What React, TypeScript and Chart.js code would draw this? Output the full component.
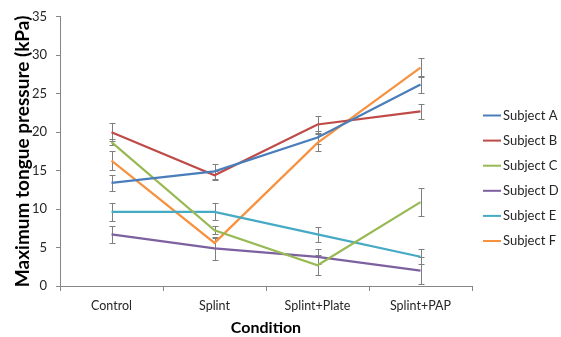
import React, { useEffect, useRef } from 'react';
import { Chart, registerables } from 'chart.js';

Chart.register(...registerables);

const categories = ['Control', 'Splint', 'Splint+Plate', 'Splint+PAP'];
const subjectLabels = ['Subject A', 'Subject B', 'Subject C', 'Subject D', 'Subject E', 'Subject F'];
const subjectColors = ['#4A7EBB', '#BE4B48', '#98B954', '#7D60A0', '#46AAC5', '#F69240'];

const subjectA = [13.4, 14.9, 19.3, 26.2];
const subjectB = [20.0, 14.4, 21.0, 22.7];
const subjectC = [18.7, 7.25, 2.7, 10.9];
const subjectD = [6.7, 4.9, 3.8, 2.0];
const subjectE = [9.65, 9.65, 6.7, 3.8];
const subjectF = [16.3, 5.6, 18.6, 28.4];

const errA = [1.0, 1.0, 0.9, 1.1];
const errB = [1.2, 0.6, 1.1, 1.0];
const errC = [0.35, 0.5, 1.3, 1.85];
const errD = [1.15, 1.5, 0.95, 1.8];
const errE = [1.15, 1.1, 1.0, 1.0];
const errF = [1.2, 0.7, 1.1, 1.25];

const yTicks = [0, 5, 10, 15, 20, 25, 30, 35];

const seriesValues = [subjectA, subjectB, subjectC, subjectD, subjectE, subjectF];
const seriesErrors = [errA, errB, errC, errD, errE, errF];

const FONT = 'Lato, "Open Sans", sans-serif';

const errorBarPlugin = {
  id: 'errorBars',
  beforeDatasetsDraw(chart: any) {
    const ctx = chart.ctx;
    const yScale = chart.scales.y;
    ctx.save();
    ctx.strokeStyle = '#7f7f7f';
    ctx.lineWidth = 1;
    chart.data.datasets.forEach((ds: any, i: number) => {
      const meta = chart.getDatasetMeta(i);
      const errs = seriesErrors[i];
      meta.data.forEach((el: any, j: number) => {
        const v = ds.data[j];
        const e = errs[j];
        const x = Math.round(el.x) + 0.5;
        const yT = Math.round(yScale.getPixelForValue(v + e)) + 0.5;
        const yB = Math.round(yScale.getPixelForValue(v - e)) + 0.5;
        ctx.beginPath();
        ctx.moveTo(x, yT);
        ctx.lineTo(x, yB);
        ctx.moveTo(x - 3, yT);
        ctx.lineTo(x + 3, yT);
        ctx.moveTo(x - 3, yB);
        ctx.lineTo(x + 3, yB);
        ctx.stroke();
      });
    });
    ctx.restore();
  },
};

const legendPlugin = {
  id: 'customLegend',
  afterDraw(chart: any) {
    const ctx = chart.ctx;
    const area = chart.chartArea;
    const x0 = area.right + 11;
    const yStart = 115.5;
    const step = 25.1;
    ctx.save();
    ctx.font = `13px ${FONT}`;
    ctx.textBaseline = 'middle';
    ctx.textAlign = 'left';
    chart.data.datasets.forEach((ds: any, i: number) => {
      const y = yStart + i * step;
      ctx.strokeStyle = ds.borderColor;
      ctx.lineWidth = 2;
      ctx.beginPath();
      ctx.moveTo(x0, y);
      ctx.lineTo(x0 + 18, y);
      ctx.stroke();
      ctx.fillStyle = '#262626';
      ctx.fillText(ds.label, x0 + 20, y);
    });
    ctx.restore();
  },
};

export default function App() {
  const ref = useRef<HTMLCanvasElement | null>(null);

  useEffect(() => {
    if (!ref.current) return;
    const chart = new Chart(ref.current, {
      type: 'line',
      data: {
        labels: categories,
        datasets: seriesValues.map((vals, i) => ({
          label: subjectLabels[i],
          data: vals,
          borderColor: subjectColors[i],
          backgroundColor: subjectColors[i],
          borderWidth: 2.25,
          pointRadius: 0,
          tension: 0,
          fill: false,
        })),
      },
      options: {
        responsive: false,
        animation: false,
        layout: { padding: { left: 0, right: 89, top: 16, bottom: 0 } },
        plugins: {
          legend: { display: false },
          tooltip: { enabled: false },
        },
        scales: {
          x: {
            type: 'category',
            offset: true,
            grid: {
              offset: true,
              drawOnChartArea: false,
              drawTicks: true,
              tickLength: 5,
              color: '#868686',
            },
            border: { color: '#868686', width: 1 },
            ticks: {
              color: '#262626',
              font: { family: FONT, size: 12.5 },
              padding: 7,
              maxRotation: 0,
            },
            title: {
              display: true,
              text: 'Condition',
              color: '#000',
              font: { family: FONT, size: 16, weight: 'bold' },
              padding: { top: 0, bottom: 0 },
            },
            afterFit(scale: any) {
              scale.height = 51;
            },
          },
          y: {
            min: 0,
            max: 35,
            afterBuildTicks(scale: any) {
              scale.ticks = yTicks.map((v) => ({ value: v }));
            },
            grid: {
              drawOnChartArea: false,
              drawTicks: true,
              tickLength: 4,
              color: '#868686',
            },
            border: { color: '#868686', width: 1 },
            ticks: {
              color: '#262626',
              font: { family: FONT, size: 13 },
              padding: 9,
            },
            title: {
              display: true,
              text: 'Maximum tongue pressure (kPa)',
              color: '#000',
              font: { family: FONT, size: 19, weight: 'bold' },
              padding: { top: 11, bottom: 0 },
            },
            afterFit(scale: any) {
              scale.width = 60;
            },
          },
        },
      },
      plugins: [errorBarPlugin, legendPlugin],
    });
    return () => chart.destroy();
  }, []);

  return (
    <div style={{ position: 'absolute', left: 0, top: 0, width: 561, height: 337 }}>
      <canvas ref={ref} width={561} height={337} style={{ display: 'block', background: '#fff' }} />
    </div>
  );
}
